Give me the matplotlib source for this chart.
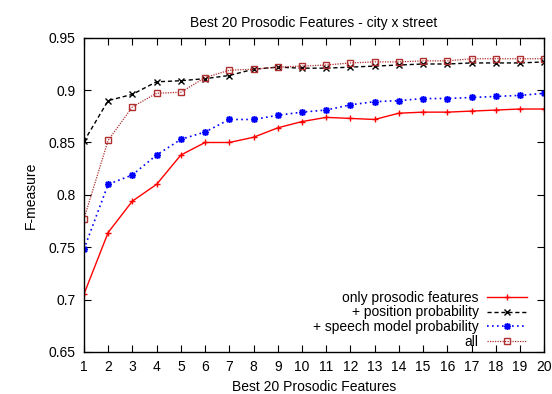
import matplotlib
matplotlib.use("Agg")
import matplotlib.pyplot as plt
import numpy as np

plt.rcParams['font.family'] = ['Liberation Sans', 'DejaVu Sans']

n_features = list(range(1, 21))

only_prosodic = [0.705, 0.764, 0.794, 0.810, 0.838, 0.850, 0.850, 0.855, 0.864, 0.870,
                 0.874, 0.873, 0.872, 0.878, 0.879, 0.879, 0.880, 0.881, 0.882, 0.882]
position_prob = [0.851, 0.890, 0.896, 0.908, 0.909, 0.911, 0.914, 0.920, 0.922, 0.921,
                 0.921, 0.922, 0.923, 0.924, 0.925, 0.925, 0.926, 0.926, 0.926, 0.927]
speech_model = [0.748, 0.810, 0.819, 0.838, 0.853, 0.860, 0.872, 0.872, 0.876, 0.879,
                0.881, 0.886, 0.889, 0.890, 0.892, 0.892, 0.893, 0.894, 0.895, 0.897]
all_feats = [0.777, 0.852, 0.884, 0.897, 0.898, 0.912, 0.919, 0.920, 0.922, 0.923,
             0.924, 0.926, 0.927, 0.927, 0.928, 0.928, 0.930, 0.930, 0.930, 0.930]

fig = plt.figure(figsize=(5.52, 3.94), dpi=100)
ax = fig.add_axes([0.152, 0.107, 0.834, 0.797])

ax.plot(n_features, only_prosodic, color='#ff0000', ls='-', lw=1, marker='+', ms=5,
        mew=1, label='only prosodic features')
ax.plot(n_features, position_prob, color='black', ls=(0, (3, 2)), lw=1, marker='x', ms=4,
        mew=1, label='+ position probability')
ax.plot(n_features, speech_model, color='#0000ff', ls=(0, (1, 2)), lw=1.2, marker=(8, 2, 0),
        ms=5, mew=1.1, label='+ speech model probability')
ax.plot(n_features, all_feats, color='#b03030', ls=(0, (1, 1)), lw=0.9, marker='s', ms=5,
        mfc='none', mew=1, label='all')

ax.set_xlim(1, 20)
ax.set_ylim(0.65, 0.95)
ax.set_xticks(n_features)
ax.set_yticks([0.65, 0.7, 0.75, 0.8, 0.85, 0.9, 0.95])
ax.set_yticklabels(['0.65', '0.7', '0.75', '0.8', '0.85', '0.9', '0.95'])
ax.tick_params(direction='in', top=True, right=True, length=5, labelsize=10, pad=6)
for s in ax.spines.values():
    s.set_linewidth(1)

ax.set_title('Best 20 Prosodic Features - city x street', fontsize=10, pad=8)
ax.set_xlabel('Best 20 Prosodic Features', fontsize=10, labelpad=4)
ax.set_ylabel('F-measure', fontsize=10, labelpad=8)

ax.legend(loc='lower right', frameon=False, markerfirst=False, fontsize=10,
          handlelength=2.9, handletextpad=0.6, labelspacing=0.05,
          bbox_to_anchor=(0.99, -0.03))
leg = ax.get_legend()
for t in leg.get_texts():
    t.set_ha('right')

fig.savefig('out.png', dpi=100)
